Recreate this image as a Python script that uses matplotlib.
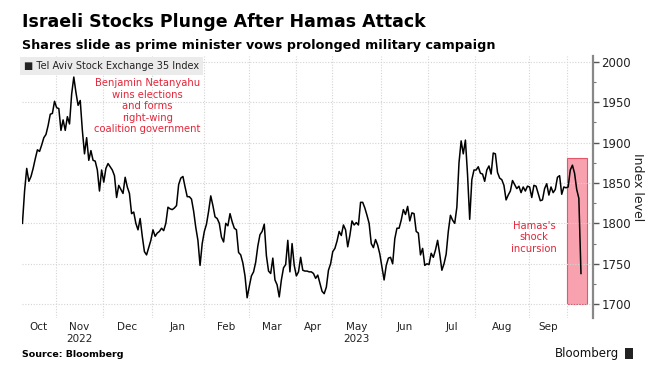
import numpy as np
import matplotlib
matplotlib.use("Agg")
import matplotlib.pyplot as plt
from matplotlib.patches import Rectangle

# TA-35 closes, one list per month (trading days)
oct22 = [1800, 1840, 1868, 1852, 1858, 1868, 1880, 1891, 1889, 1897, 1906, 1910,
         1921, 1935, 1936, 1951]
nov22 = [1943, 1942, 1915, 1928, 1915, 1932, 1923, 1960, 1981, 1962, 1946, 1952,
         1915, 1886, 1906, 1878, 1890, 1878, 1877, 1866, 1840, 1866]
dec22 = [1851, 1868, 1874, 1870, 1866, 1859, 1832, 1847, 1842, 1837, 1857, 1845,
         1837, 1812, 1814, 1800, 1792, 1806, 1784, 1765, 1761, 1770, 1779]
jan23 = [1792, 1784, 1788, 1790, 1794, 1791, 1800, 1820, 1818, 1817, 1819, 1822,
         1848, 1856, 1858, 1845, 1833, 1833, 1830, 1815, 1795, 1779, 1748, 1775]
feb23 = [1790, 1799, 1815, 1834, 1822, 1808, 1806, 1800, 1783, 1777, 1800, 1797,
         1812, 1802, 1794, 1792, 1764, 1761, 1751, 1735, 1708]
mar23 = [1722, 1735, 1740, 1752, 1772, 1786, 1790, 1799, 1760, 1741, 1738, 1757,
         1730, 1724, 1709, 1730, 1745, 1749, 1779, 1740, 1775, 1748]
apr23 = [1735, 1740, 1758, 1742, 1741, 1741, 1740, 1740, 1738, 1732, 1736, 1726,
         1716, 1713, 1721, 1742, 1750]
may23 = [1765, 1769, 1778, 1790, 1785, 1798, 1792, 1771, 1785, 1803, 1798, 1801,
         1798, 1826, 1826, 1819, 1810, 1800, 1775, 1770, 1780, 1773, 1762]
jun23 = [1746, 1730, 1748, 1757, 1758, 1750, 1781, 1794, 1794, 1804, 1817, 1811,
         1821, 1803, 1813, 1812, 1790, 1788, 1761, 1769, 1748, 1750]
jul23 = [1749, 1763, 1758, 1767, 1779, 1762, 1742, 1750, 1762, 1790, 1810, 1804,
         1800, 1820, 1875, 1902, 1886, 1903, 1860, 1805, 1854, 1866]
aug23 = [1866, 1870, 1862, 1861, 1852, 1866, 1871, 1861, 1887, 1886, 1863, 1856,
         1854, 1847, 1829, 1835, 1840, 1853, 1848, 1843, 1846, 1838, 1845, 1840,
         1846]
sep23 = [1845, 1832, 1847, 1846, 1837, 1828, 1829, 1843, 1849, 1835, 1845, 1838,
         1842, 1857, 1859, 1836, 1845, 1844]
oct23 = [1845, 1866, 1872, 1862, 1842, 1831, 1738]

months = [oct22, nov22, dec22, jan23, feb23, mar23, apr23, may23, jun23,
          jul23, aug23, sep23, oct23]
month_labels = ['Oct', 'Nov', 'Dec', 'Jan', 'Feb', 'Mar', 'Apr', 'May', 'Jun',
                'Jul', 'Aug', 'Sep', '']
yticks = [1700, 1750, 1800, 1850, 1900, 1950, 2000]

RED = '#e3263a'

values = np.concatenate(months)
x = np.arange(len(values))
starts = np.cumsum([0] + [len(m) for m in months])[:-1]
centers = [s + len(m) / 2 - 0.5 for s, m in zip(starts, months)]

fig = plt.figure(figsize=(6.67, 3.71), dpi=100)
ax = fig.add_axes([0.033, 0.143, 0.856, 0.706])

# month gridlines
for s in starts[1:]:
    ax.axvline(s - 0.3, color='#d4d4d4', lw=0.8, ls=(0, (1, 1.5)), zorder=0)
ax.grid(axis='y', color='#d4d4d4', lw=0.8, ls=(0, (1, 1.5)), zorder=0)

# shaded attack window
ax.add_patch(Rectangle((starts[-1] - 0.7, 1700), len(oct23) + 2.5, 181,
                       facecolor='#f8a2b0', edgecolor='#e4566a', lw=0.8,
                       zorder=1))

ax.plot(x, values, color='black', lw=1.1, zorder=3)

ax.set_xlim(-0.2, 266.6)
ax.set_ylim(1683, 2007)

for side in ['left', 'top', 'bottom']:
    ax.spines[side].set_visible(False)
ax.spines['right'].set_color('#888888')
ax.spines['right'].set_linewidth(1.6)

ax.yaxis.tick_right()
ax.set_yticks(yticks)
ax.set_yticks(np.arange(1700, 2001, 25), minor=True)
ax.tick_params(axis='y', which='major', length=4, width=1, color='#555555',
               labelsize=8.5, labelcolor='#222222', pad=2)
ax.tick_params(axis='y', which='minor', length=2, width=0.8, color='#777777')
ax.yaxis.set_label_position('right')
ax.set_ylabel('Index level', rotation=-90, fontsize=9, labelpad=9,
              color='#222222')

ax.set_xticks(centers[:-1])
ax.set_xticklabels(month_labels[:-1], fontsize=7.5, color='#222222')
ax.tick_params(axis='x', length=0, pad=3)
ax.text(centers[1], -0.062, '2022', transform=ax.get_xaxis_transform(),
        ha='center', va='top', fontsize=7.5, color='#222222')
ax.text(centers[7], -0.062, '2023', transform=ax.get_xaxis_transform(),
        ha='center', va='top', fontsize=7.5, color='#222222')

# annotations
ax.text(centers[3] - 14, 1945, 'Benjamin Netanyahu\nwins elections\nand forms\n'
        'right-wing\ncoalition government', ha='center', va='center',
        fontsize=7.2, color=RED, linespacing=1.2)
ax.text(centers[11] - 6.5, 1783, "Hamas's\nshock\nincursion", ha='center',
        va='center', fontsize=7.2, color=RED, linespacing=1.2)

# legend box
fig.text(0.036, 0.822, '\u25a0 Tel Aviv Stock Exchange 35 Index', fontsize=7,
         color='#222222', va='center',
         bbox=dict(boxstyle='square,pad=0.4', fc='#ebebeb', ec='none'))

fig.text(0.033, 0.94, 'Israeli Stocks Plunge After Hamas Attack',
         fontsize=12.5, fontweight='bold', va='center')
fig.text(0.033, 0.878, 'Shares slide as prime minister vows prolonged '
         'military campaign', fontsize=9.2, fontweight='bold', va='center')
fig.text(0.033, 0.045, 'Source: Bloomberg', fontsize=6.8, fontweight='bold',
         va='center')
fig.text(0.928, 0.048, 'Bloomberg', fontsize=8.5, ha='right', va='center',
         color='#111111')
fig.patches.append(Rectangle((0.937, 0.033), 0.012, 0.03,
                             transform=fig.transFigure, fc='#222222'))

fig.savefig('out.png', dpi=100)
